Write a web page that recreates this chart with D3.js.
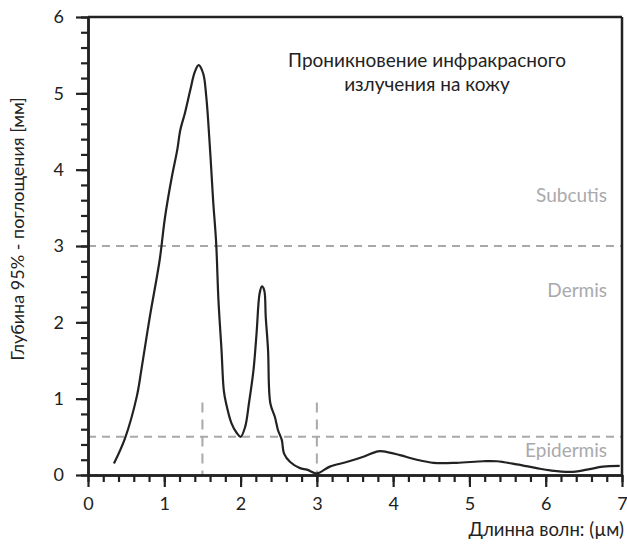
<!DOCTYPE html>
<html>
<head>
<meta charset="utf-8">
<script src="https://cdn.jsdelivr.net/npm/d3@7"></script>
<style>
html,body{margin:0;padding:0;background:#fff;}
svg{display:block;font-family:Lato,"Open Sans",sans-serif;}
</style>
</head>
<body>
<svg id="chart" width="627" height="545"></svg>
<script>
// Data
const wavelength = [0.34,0.485,0.64,0.70,0.81,0.94,1.01,1.10,1.17,1.21,1.27,1.34,1.40,1.45,1.51,1.55,1.60,1.64,1.68,1.71,1.75,1.78,1.81,1.88,1.95,2.00,2.06,2.11,2.17,2.21,2.25,2.28,2.31,2.33,2.36,2.39,2.45,2.49,2.54,2.57,2.65,2.78,2.87,3.00,3.17,3.39,3.61,3.80,3.87,4.09,4.31,4.53,4.83,5.18,5.36,5.62,5.88,6.06,6.32,6.54,6.75,6.97];
const depth = [0.15,0.48,1.03,1.38,2.07,2.82,3.38,3.91,4.26,4.52,4.74,5.04,5.28,5.37,5.26,4.96,4.26,3.60,3.04,2.29,1.64,1.11,0.94,0.68,0.55,0.50,0.63,0.94,1.38,1.86,2.38,2.47,2.42,2.07,1.64,0.94,0.76,0.59,0.46,0.28,0.17,0.09,0.07,0.02,0.11,0.17,0.24,0.31,0.31,0.26,0.20,0.16,0.16,0.18,0.18,0.14,0.09,0.06,0.04,0.07,0.11,0.12];
const xTicks = [0,1,2,3,4,5,6,7];
const yTicks = [0,1,2,3,4,5,6];
const layerBounds = [3, 0.5];
const layerNames = ["Subcutis","Dermis","Epidermis"];
const layerLabelY = [3.64, 2.4, 0.3];
const markerX = [1.5, 3];
const markerTop = 0.95;
const noteLines = ["Проникновение инфракрасного","излучения на кожу"];
const xTitle = "Длинна волн: (µм)";
const yTitle = "Глубина 95% - поглощения [мм]";

const svg = d3.select("#chart");
const L = 88, R = 622, T = 17, B = 475;
const x = d3.scaleLinear().domain([0,7]).range([L,R]);
const y = d3.scaleLinear().domain([0,6]).range([B,T]);
const ink = "#222";
const grey = "#a9a9ac";
const FS = 18;

// dashed layer boundaries
svg.selectAll(".hb").data(layerBounds).enter().append("line")
  .attr("x1",L).attr("x2",R).attr("y1",d=>y(d)).attr("y2",d=>y(d))
  .attr("stroke",grey).attr("stroke-width",2).attr("stroke-dasharray","8,6");
svg.selectAll(".vb").data(markerX).enter().append("line")
  .attr("x1",d=>x(d)).attr("x2",d=>x(d)).attr("y1",y(markerTop)).attr("y2",B)
  .attr("stroke",grey).attr("stroke-width",2).attr("stroke-dasharray","10,7");

// layer labels
svg.selectAll(".ll").data(layerNames).enter().append("text")
  .attr("x",607).attr("y",(d,i)=>y(layerLabelY[i]))
  .attr("text-anchor","end").attr("dominant-baseline","middle")
  .attr("fill",grey).attr("font-size",FS+1).text(d=>d);

// annotation
svg.selectAll(".note").data(noteLines).enter().append("text")
  .attr("x",427).attr("y",(d,i)=>67+i*24)
  .attr("text-anchor","middle").attr("fill",ink).attr("font-size",FS+1).text(d=>d);

// curve
const pts = wavelength.map((w,i)=>[w,depth[i]]);
svg.append("path").datum(pts)
  .attr("fill","none").attr("stroke",ink).attr("stroke-width",2.2)
  .attr("stroke-linejoin","round")
  .attr("d",d3.line().x(d=>x(d[0])).y(d=>y(d[1])).curve(d3.curveCatmullRom.alpha(0.5)));

// frame top/right
svg.append("line").attr("x1",L).attr("x2",R).attr("y1",T).attr("y2",T).attr("stroke",ink).attr("stroke-width",2.5);
svg.append("line").attr("x1",R).attr("x2",R).attr("y1",T).attr("y2",B).attr("stroke",ink).attr("stroke-width",2.5);

// axes
function styleAxis(g){
  g.select(".domain").attr("stroke",ink).attr("stroke-width",2.5);
  g.selectAll(".tick line").attr("stroke",ink).attr("stroke-width",2.2);
  g.selectAll("text").attr("fill",ink).attr("font-size",FS).attr("font-family","Lato,'Open Sans',sans-serif");
}
const xMinor = d3.range(0,7.001,0.2);
const yMinor = d3.range(0,6.001,0.2);
const gxm = svg.append("g").attr("transform",`translate(0,${B})`)
  .call(d3.axisBottom(x).tickValues(xMinor).tickSize(7).tickSizeOuter(0).tickFormat(""));
styleAxis(gxm);
const gx = svg.append("g").attr("transform",`translate(0,${B})`)
  .call(d3.axisBottom(x).tickValues(xTicks).tickSize(12).tickSizeOuter(0).tickPadding(10).tickFormat(d3.format("d")));
styleAxis(gx);
const gym = svg.append("g").attr("transform",`translate(${L},0)`)
  .call(d3.axisLeft(y).tickValues(yMinor).tickSize(7).tickSizeOuter(0).tickFormat(""));
styleAxis(gym);
const gy = svg.append("g").attr("transform",`translate(${L},0)`)
  .call(d3.axisLeft(y).tickValues(yTicks).tickSize(12).tickSizeOuter(0).tickPadding(12).tickFormat(d3.format("d")));
styleAxis(gy);

// axis titles
svg.append("text").attr("x",R+2).attr("y",536).attr("text-anchor","end")
  .attr("fill",ink).attr("font-size",FS+0.5).text(xTitle);
svg.append("text").attr("transform",`translate(24,229) rotate(-90)`)
  .attr("text-anchor","middle").attr("fill",ink).attr("font-size",FS).text(yTitle);
</script>
</body>
</html>
